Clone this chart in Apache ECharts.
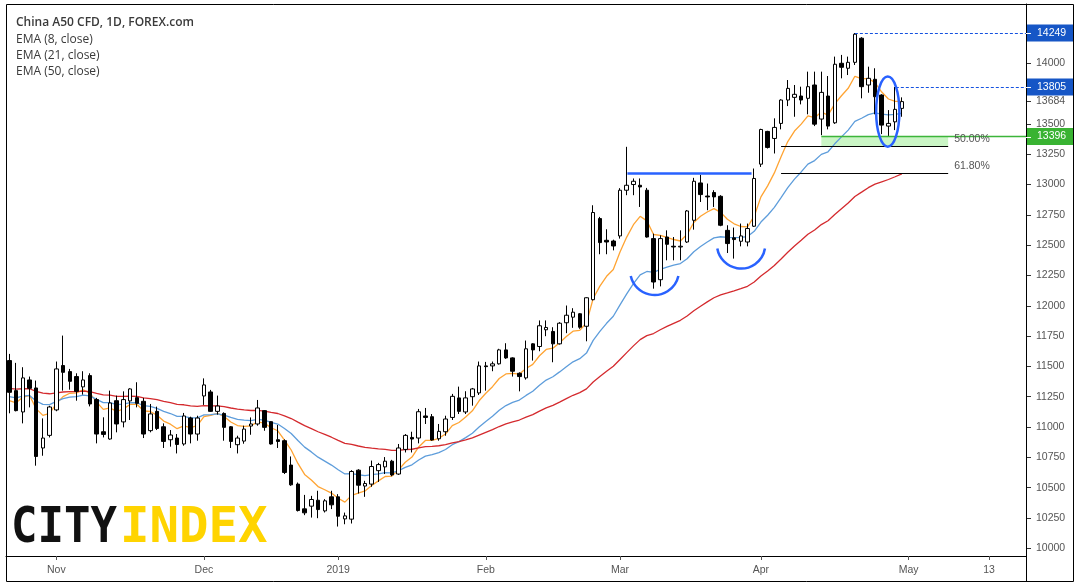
<!DOCTYPE html>
<html><head><meta charset="utf-8">
<script src="https://cdn.jsdelivr.net/npm/echarts@6/dist/echarts.min.js"></script>
<style>html,body{margin:0;padding:0;background:#fff}#c{width:1080px;height:588px}</style>
</head><body><div id="c"></div>
<script>
// ---- data ----
const opens  = [11548,11300,11124,11388,11322,10827,10931,11141,11507,11457,11416,11331,11424,11226,10961,10901,11217,11042,11215,11242,11212,10970,11129,11002,10895,10909,10860,11074,10942,11256,11289,11129,11112,11002,10854,10884,11008,11025,11135,11044,10895,10887,10686,10529,10325,10347,10396,10308,10424,10424,10242,10240,10644,10513,10529,10640,10671,10718,10612,10815,10914,10909,11091,11085,10903,10961,11079,11240,11124,11250,11281,11504,11504,11521,11636,11570,11443,11405,11686,11664,11802,11788,11686,11860,11906,11934,11831,12050,12719,12540,12534,12576,12953,13000,12994,12953,12554,12215,12567,12491,12485,12526,12705,13013,12905,12934,12903,12622,12560,12532,12526,12656,13168,13438,13380,13504,13697,13719,13730,13711,13821,13540,13730,13509,14000,13959,14008,14207,13821,13868,13738,13482,13517,13628];
const highs  = [11603,11529,11493,11416,11383,11071,11175,11540,11754,11479,11443,11460,11443,11240,11080,11300,11259,11294,11320,11369,11240,11190,11168,11030,10975,10942,11116,11085,11093,11401,11306,11259,11121,11008,10928,11011,11079,11223,11140,11046,11017,10898,10757,10542,10440,10432,10474,10405,10474,10446,10294,10644,10652,10556,10723,10704,10752,10729,10860,10942,10961,11149,11157,11107,11025,11093,11273,11333,11295,11322,11540,11537,11540,11645,11691,11575,11451,11713,11691,11879,11879,11823,11865,12002,11980,11939,12070,12829,12733,12631,12545,12970,13311,13050,13050,12972,12595,12581,12622,12567,12622,12790,13055,13080,13008,12953,12912,12664,12645,12678,12678,13132,13460,13443,13546,13703,13862,13821,13807,13931,13931,13931,13895,14055,14069,14055,14249,14215,13972,13959,13745,13614,13805,13719];
const lows   = [11113,11129,11030,11162,10681,10763,10914,11130,11300,11308,11217,11267,11170,10865,10914,10895,10956,10997,11058,11162,10909,10956,10975,10827,10838,10782,10846,10865,10887,11182,11125,11102,10887,10827,10782,10862,10936,11011,10969,10855,10827,10612,10515,10303,10273,10253,10248,10295,10323,10179,10198,10204,10451,10424,10507,10547,10612,10594,10605,10790,10790,10865,11025,10887,10887,10928,11058,11107,11107,11176,11264,11300,11460,11515,11562,11416,11294,11391,11548,11625,11749,11534,11680,11774,11818,11810,11707,12044,12425,12425,12457,12554,12912,12912,12815,12562,12141,12160,12375,12375,12375,12518,12628,12856,12788,12815,12656,12435,12389,12490,12490,12650,13145,13297,13256,13455,13647,13559,13661,13579,13482,13407,13455,13500,13876,13903,13986,13711,13757,13579,13416,13393,13449,13559];
const closes = [11286,11135,11405,11319,10757,10909,11165,11479,11451,11377,11294,11388,11190,10942,10939,11198,11025,11226,11314,11195,10942,11108,10988,10881,10934,10856,11091,10942,11074,11347,11129,11173,10997,10881,10909,10983,11025,11157,10997,10860,10881,10625,10523,10311,10292,10402,10319,10391,10358,10264,10267,10633,10520,10534,10674,10690,10718,10605,10827,10931,10901,11126,11079,10893,10964,11066,11253,11129,11240,11314,11504,11498,11521,11636,11570,11460,11416,11645,11636,11835,11821,11686,11856,11922,11947,11823,12066,12769,12521,12526,12493,12953,12994,13027,12980,12567,12196,12554,12507,12485,12491,12782,13027,12917,12898,12898,12664,12513,12546,12576,12637,13050,13454,13306,13471,13697,13793,13744,13697,13807,13498,13760,13482,13992,13967,14008,14240,13807,13876,13724,13490,13504,13620,13684];
// EMA starting values read at the first bar
const emaPeriods = [8, 21, 50];
const emaSeeds   = [11218, 11250, 11319];
const emaColors  = ['#ffa433', '#5e9ddb', '#d42a2e'];
// axis labels
const xTickIndex = [7, 29, 49, 71, 91, 112, 134, 146];
const xTickText  = ['Nov', 'Dec', '2019', 'Feb', 'Mar', 'Apr', 'May', '13'];
const yTickValues = [10000,10250,10500,10750,11000,11250,11500,11750,12000,12250,12500,12750,13000,13250,13500,13684,14000];
const priceBadges = [[14249, '#1656c6'], [13805, '#1656c6'], [13396, '#39b332']];
// annotations (category index / price)
const dottedLevels = [[14249, 126], [13805, 132.1]];
const supportZone = {from: 121, to: 139.9, top: 13396, bottom: 13315};
const fibLevels = [[13315, '50.00%'], [13099, '61.80%']];
const fibRange = [115, 139.9];
const neckline = {from: 92.1, to: 110.6, v: 13091};
const arcs = [[92.6, 99.7, 12246, 12089], [105.5, 112.6, 12472, 12307]];
const ellipseMark = {x: 130.9, v: 13601, dx: 1.73, dv: 289};

// categories: trading days from 23 Oct 2018, plus future slots
const holidays = ['2018-12-25', '2019-01-01'];
const categories = [];
(function(){
  let d = new Date(Date.UTC(2018, 9, 23));
  while (categories.length < 152) {
    const wd = d.getUTCDay();
    const s = d.toISOString().slice(0, 10);
    if (wd !== 0 && wd !== 6 && holidays.indexOf(s) < 0) categories.push(s);
    d = new Date(d.getTime() + 86400000);
  }
})();

function ema(period, seed) {
  const k = 2 / (period + 1);
  let e = seed;
  return closes.map((c, i) => { if (i > 0) e = e + k * (c - e); return +e.toFixed(1); });
}

const candleData = opens.map((o, i) => [o, closes[i], lows[i], highs[i]]);
const labelFont = 'Liberation Sans, Arial, sans-serif';

const chart = echarts.init(document.getElementById('c'), null, {renderer: 'canvas'});
const series = [{
  type: 'candlestick', data: candleData, barWidth: 4, z: 3,
  itemStyle: {color: '#ffffff', color0: '#000000', borderColor: '#000000', borderColor0: '#000000', borderWidth: 1}
}];
emaPeriods.forEach((p, j) => {
  series.push({type: 'line', data: ema(p, emaSeeds[j]), symbol: 'none', smooth: false, z: 2,
    lineStyle: {color: emaColors[j], width: 1.3}});
});
chart.setOption({
  animation: false,
  backgroundColor: '#ffffff',
  grid: {left: 6, top: 4, width: 1020, height: 552},
  xAxis: {
    type: 'category', data: categories, boundaryGap: true,
    axisLine: {show: true, lineStyle: {color: '#000', width: 1}},
    axisTick: {show: true, alignWithLabel: true, length: 4, lineStyle: {color: '#555'},
      interval: (i) => xTickIndex.indexOf(i) >= 0},
    axisLabel: {show: true, interval: (i) => xTickIndex.indexOf(i) >= 0, margin: 9,
      formatter: (v, i) => { const k = xTickIndex.indexOf(i); return k >= 0 ? xTickText[k] : ''; },
      color: '#555', fontSize: 10.5, fontFamily: labelFont},
    splitLine: {show: false}
  },
  yAxis: {
    type: 'value', position: 'right', min: 9936, max: 14489, scale: true,
    axisLine: {show: true, lineStyle: {color: '#000', width: 1}},
    axisTick: {show: true, length: 5, lineStyle: {color: '#333'}, customValues: yTickValues},
    axisLabel: {color: '#555', fontSize: 10.5, fontFamily: labelFont, margin: 10, customValues: yTickValues,
      formatter: (v) => String(Math.round(v))},
    splitLine: {show: false}
  },
  series: series
});

function drawAnnotations() {
  const x0 = chart.convertToPixel({xAxisIndex: 0}, 0);
  const x1 = chart.convertToPixel({xAxisIndex: 0}, 1);
  const px = (i) => x0 + (x1 - x0) * i;
  const py = (v) => chart.convertToPixel({yAxisIndex: 0}, v);
  const right = 1026;
  const blue = '#2962ff';
  const g = [];
  // frame
  g.push({type: 'rect', shape: {x: 6.5, y: 4.5, width: 1067, height: 577}, style: {fill: 'none', stroke: '#000', lineWidth: 1}, z: 50, silent: true});
  g.push({type: 'line', shape: {x1: 1026.5, y1: 4, x2: 1026.5, y2: 582}, style: {stroke: '#000', lineWidth: 1}, z: 50});
  // support zone
  g.push({type: 'rect', shape: {x: px(supportZone.from), y: py(supportZone.top), width: px(supportZone.to) - px(supportZone.from), height: py(supportZone.bottom) - py(supportZone.top)},
    style: {fill: 'rgba(150,235,140,0.5)'}, z: 1});
  g.push({type: 'line', shape: {x1: px(supportZone.from), y1: py(supportZone.top), x2: right, y2: py(supportZone.top)}, style: {stroke: '#3cb53a', lineWidth: 1.4}, z: 10});
  // fib levels
  fibLevels.forEach(([v, t]) => {
    const y = Math.round(py(v)) + 0.5;
    g.push({type: 'line', shape: {x1: px(fibRange[0]), y1: y, x2: px(fibRange[1]), y2: y}, style: {stroke: '#000', lineWidth: 1}, z: 10});
    g.push({type: 'text', x: px(fibRange[1]) + 6, y: y - 7, style: {text: t, fill: '#555', font: '10.5px ' + labelFont, textVerticalAlign: 'middle'}, z: 10});
  });
  // dotted levels
  dottedLevels.forEach(([v, from]) => {
    const y = Math.round(py(v)) + 0.5;
    g.push({type: 'line', shape: {x1: px(from), y1: y, x2: right, y2: y}, style: {stroke: '#1552e0', lineWidth: 1.2, lineDash: [3, 2]}, z: 10});
  });
  // neckline
  g.push({type: 'line', shape: {x1: px(neckline.from), y1: py(neckline.v), x2: px(neckline.to), y2: py(neckline.v)}, style: {stroke: blue, lineWidth: 2.5}, z: 10});
  // arcs
  arcs.forEach(([a, b, top, bottom]) => {
    const xa = px(a), xb = px(b), yt = py(top), yb = py(bottom);
    const half = (xb - xa) / 2, h = yb - yt;
    const r = (half * half + h * h) / (2 * h);
    const cx = (xa + xb) / 2, cy = yb - r;
    const th = Math.atan2(yt - cy, half);
    g.push({type: 'arc', shape: {cx: cx, cy: cy, r: r, startAngle: th, endAngle: Math.PI - th, clockwise: true},
      style: {stroke: blue, lineWidth: 2.5, fill: 'none'}, z: 10});
  });
  // ellipse
  g.push({type: 'ellipse', shape: {cx: px(ellipseMark.x), cy: py(ellipseMark.v), rx: px(ellipseMark.x + ellipseMark.dx) - px(ellipseMark.x), ry: py(ellipseMark.v - ellipseMark.dv) - py(ellipseMark.v)},
    style: {stroke: blue, lineWidth: 2.5, fill: 'none'}, z: 10});
  // price badges on the axis
  priceBadges.forEach(([v, col]) => {
    const y = py(v);
    g.push({type: 'rect', shape: {x: 1027, y: y - 8.5, width: 46, height: 17}, style: {fill: col}, z: 60});
    g.push({type: 'text', x: 1037, y: y, style: {text: String(v), fill: '#fff', font: '10.5px ' + labelFont, textVerticalAlign: 'middle'}, z: 61});
    g.push({type: 'line', shape: {x1: 1026, y1: Math.round(y) + 0.5, x2: 1031, y2: Math.round(y) + 0.5}, style: {stroke: '#fff', lineWidth: 1}, z: 61});
  });
  // header
  const hdr = [['China A50 CFD, 1D, FOREX.com', 600], ['EMA (8, close)', 400], ['EMA (21, close)', 400], ['EMA (50, close)', 400]];
  hdr.forEach(([t, w], k) => {
    g.push({type: 'text', x: 16, y: 23 + k * 16.2, style: {text: t, fill: '#3a3a3a', font: w + ' 12px "Open Sans", sans-serif', textVerticalAlign: 'middle'}, z: 70});
  });
  // logo
  g.push({type: 'text', x: 11, y: 529, scaleX: 0.88, style: {text: 'CITY', fill: '#111', font: 'bold 50px "DejaVu Sans Mono", monospace', textVerticalAlign: 'middle'}, z: 70});
  g.push({type: 'text', x: 120, y: 529, scaleX: 0.98, style: {text: 'INDEX', fill: '#ffd400', font: 'bold 50px "DejaVu Sans Mono", monospace', textVerticalAlign: 'middle'}, z: 70});
  chart.setOption({graphic: g});
}
drawAnnotations();
</script>
</body></html>
